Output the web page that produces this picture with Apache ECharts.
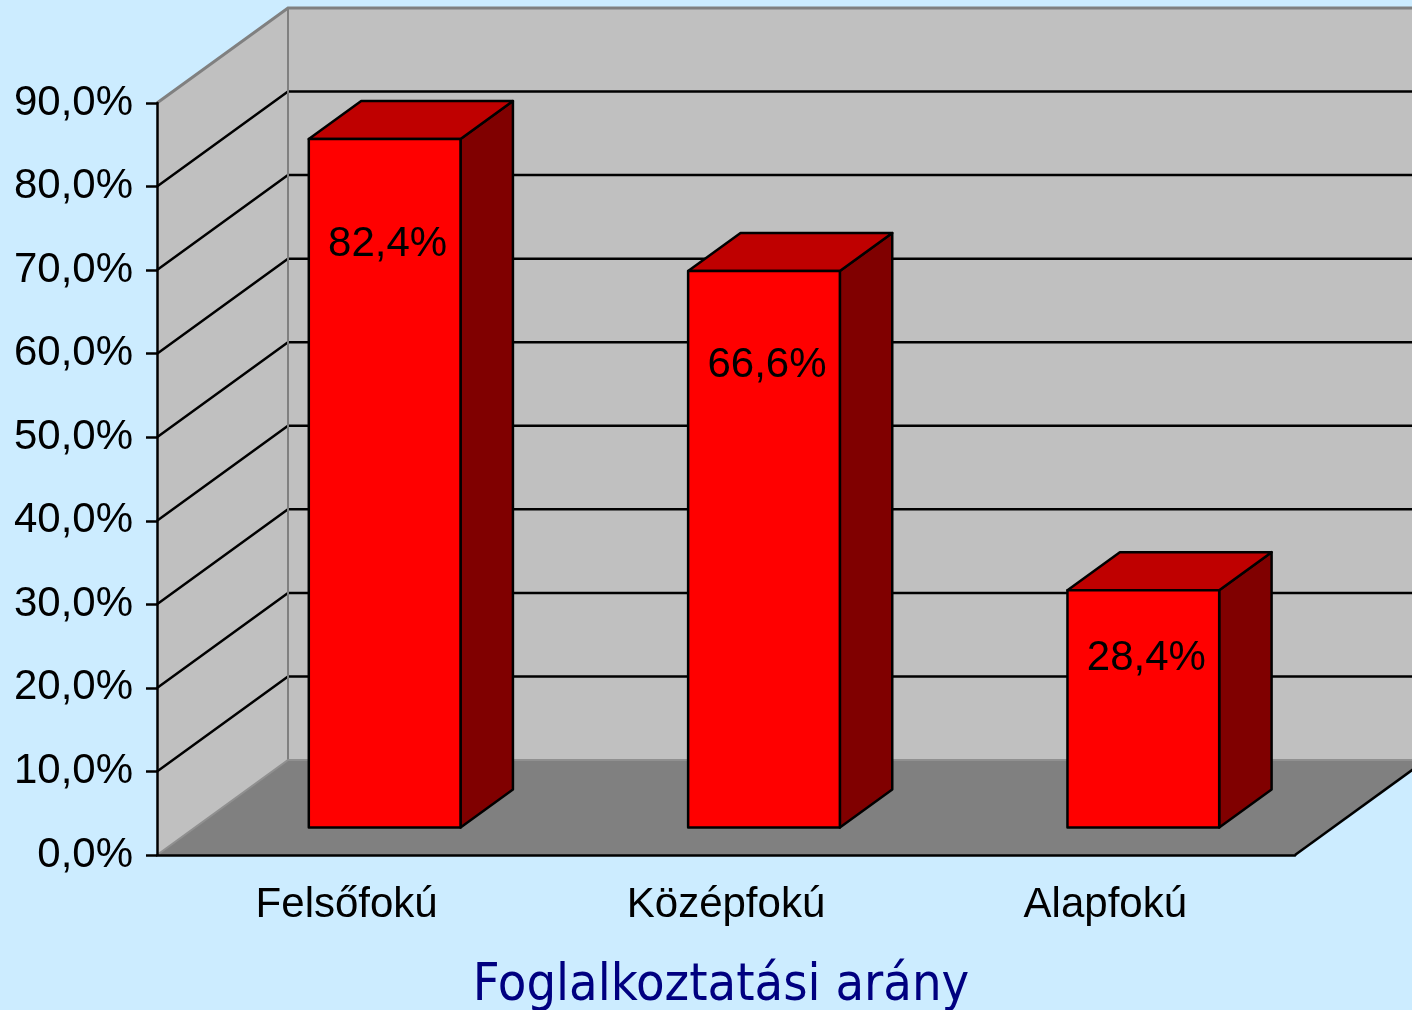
<!DOCTYPE html>
<html>
<head>
<meta charset="utf-8">
<script src="https://cdn.jsdelivr.net/npm/echarts@6/dist/echarts.min.js"></script>
<style>
  html, body { margin: 0; padding: 0; background: #CCECFF; }
  #main { width: 1412px; height: 1010px; }
</style>
</head>
<body>
<div id="main"></div>
<script>
// adatok
var categories = ['Felsőfokú', 'Középfokú', 'Alapfokú'];
var values = [82.4, 66.6, 28.4];
var yTicks = [0, 10, 20, 30, 40, 50, 60, 70, 80, 90];
var chartTitle = 'Foglalkoztatási arány';

// 3D mélység (pixel)
var DX = 131, DY = -95;
var BAR_FRONT = 0.29, BAR_BACK = 0.69;

function fmt(v) {
    return v.toFixed(1).replace('.', ',') + '%';
}

var myChart = echarts.init(document.getElementById('main'));

// falak + padló
function renderWalls(params, api) {
    var cs = params.coordSys;
    var x0 = cs.x, x1 = cs.x + cs.width;
    var yb = api.coord([0, 0])[1];
    var yt = api.coord([0, 90])[1];
    var children = [];
    // hátsó fal
    children.push({
        type: 'polygon',
        shape: { points: [[x0 + DX, yt + DY], [x1 + DX, yt + DY], [x1 + DX, yb + DY], [x0 + DX, yb + DY]] },
        style: { fill: '#C0C0C0', stroke: null }
    });
    // bal fal
    children.push({
        type: 'polygon',
        shape: { points: [[x0, yt], [x0 + DX, yt + DY], [x0 + DX, yb + DY], [x0, yb]] },
        style: { fill: '#C0C0C0', stroke: null }
    });
    // padló
    children.push({
        type: 'polygon',
        shape: { points: [[x0, yb], [x1, yb], [x1 + DX, yb + DY], [x0 + DX, yb + DY]] },
        style: { fill: '#808080', stroke: null }
    });
    // rácsvonalak
    yTicks.forEach(function (t) {
        if (t === 0 || t === 90) return;
        var y = api.coord([0, t])[1];
        children.push({
            type: 'polyline',
            shape: { points: [[x0, y], [x0 + DX, y + DY], [x1 + DX, y + DY]] },
            style: { stroke: '#000', lineWidth: 2.5, fill: null }
        });
    });
    // szegélyek
    children.push({
        type: 'polyline',
        shape: { points: [[x0, yt], [x0 + DX, yt + DY], [x1 + DX, yt + DY]] },
        style: { stroke: '#808080', lineWidth: 3, fill: null }
    });
    children.push({
        type: 'line',
        shape: { x1: x0 + DX, y1: yt + DY, x2: x0 + DX, y2: yb + DY },
        style: { stroke: '#808080', lineWidth: 2 }
    });
    children.push({
        type: 'polyline',
        shape: { points: [[x0, yb], [x0 + DX, yb + DY], [x1 + DX, yb + DY]] },
        style: { stroke: '#909090', lineWidth: 2, fill: null }
    });
    children.push({
        type: 'line',
        shape: { x1: x1, y1: yb, x2: x1 + DX, y2: yb + DY },
        style: { stroke: '#000', lineWidth: 2.5 }
    });
    return { type: 'group', children: children };
}

// 3D oszlopok
function renderBar(params, api) {
    var idx = api.value(0);
    var val = api.value(1);
    var c = api.coord([idx, val]);
    var c0 = api.coord([idx, 0]);
    var w = api.size([1, 0])[0] * 0.4;
    var ox = DX * BAR_FRONT, oy = DY * BAR_FRONT;
    var dx = DX * (BAR_BACK - BAR_FRONT), dy = DY * (BAR_BACK - BAR_FRONT);
    var l = c[0] - w / 2 + ox, r = c[0] + w / 2 + ox;
    var top = c[1] + oy, bot = c0[1] + oy;
    var h = bot - top;
    var line = { stroke: '#000', lineWidth: 2.5, lineJoin: 'round' };
    return {
        type: 'group',
        children: [
            {
                type: 'polygon',
                shape: { points: [[r, top], [r + dx, top + dy], [r + dx, bot + dy], [r, bot]] },
                style: Object.assign({ fill: '#800000' }, line)
            },
            {
                type: 'polygon',
                shape: { points: [[l, top], [l + dx, top + dy], [r + dx, top + dy], [r, top]] },
                style: Object.assign({ fill: '#BF0000' }, line)
            },
            {
                type: 'rect',
                shape: { x: l, y: top, width: r - l, height: h },
                style: Object.assign({ fill: '#FF0000' }, line)
            },
            {
                type: 'text',
                x: (l + r) / 2 + 3,
                y: top + 49 + 0.082 * h,
                style: {
                    text: fmt(val),
                    fill: '#000',
                    font: '42px "Liberation Sans", Arial, sans-serif',
                    align: 'center',
                    verticalAlign: 'middle'
                }
            }
        ]
    };
}

var option = {
    backgroundColor: '#CCECFF',
    animation: false,
    title: {
        text: chartTitle,
        left: 716,
        top: 955,
        textAlign: 'center',
        textStyle: {
            fontFamily: '"DejaVu Sans Condensed", "DejaVu Sans", sans-serif',
            fontWeight: 'normal',
            fontSize: 52,
            color: '#000080'
        }
    },
    grid: { left: 157, right: 117, top: 103, bottom: 155 },
    xAxis: {
        type: 'category',
        data: categories,
        z: 5,
        axisLine: { lineStyle: { color: '#000', width: 2.5 } },
        axisTick: { length: 14, lineStyle: { color: '#000', width: 2.5 } },
        axisLabel: {
            margin: 29,
            color: '#000',
            fontSize: 42,
            fontFamily: '"Liberation Sans", Arial, sans-serif'
        },
        splitLine: { show: false }
    },
    yAxis: {
        type: 'value',
        min: 0,
        max: 90,
        interval: 10,
        z: 5,
        axisLine: { show: true, lineStyle: { color: '#000', width: 2.5 } },
        axisTick: { show: true, length: 11, lineStyle: { color: '#000', width: 2.5 } },
        axisLabel: {
            margin: 24,
            color: '#000',
            fontSize: 42,
            fontFamily: '"Liberation Sans", Arial, sans-serif',
            formatter: fmt
        },
        splitLine: { show: false }
    },
    series: [
        {
            type: 'custom',
            z: 1,
            silent: true,
            renderItem: renderWalls,
            data: [[0, 0]]
        },
        {
            type: 'custom',
            z: 3,
            renderItem: renderBar,
            data: values.map(function (v, i) { return [i, v]; })
        }
    ]
};

myChart.setOption(option);
</script>
</body>
</html>
